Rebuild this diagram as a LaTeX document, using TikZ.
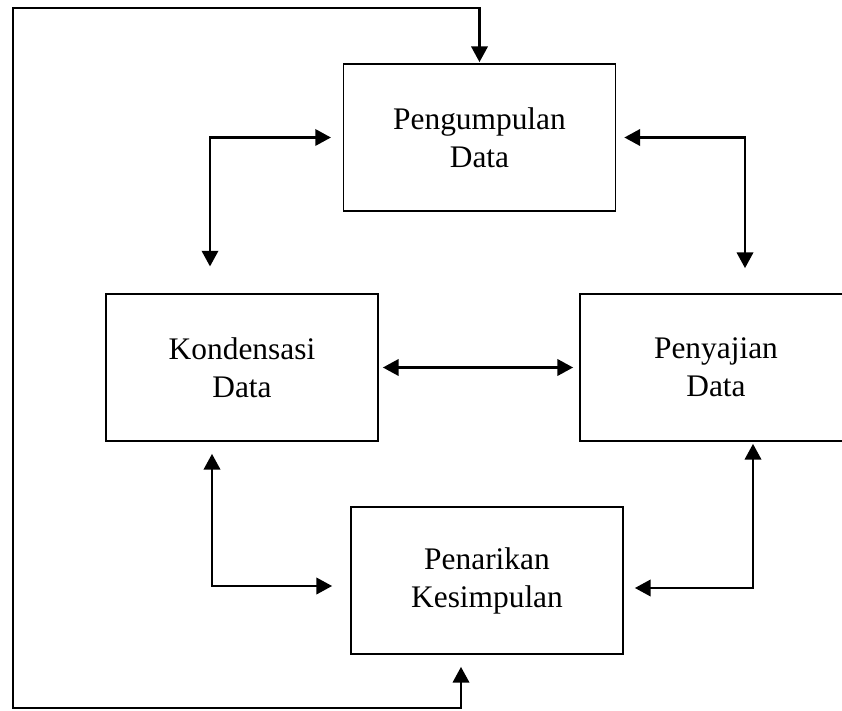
\documentclass[tikz,border=0pt]{standalone}
\usepackage{fontspec}
\setmainfont{Liberation Serif}
\usetikzlibrary{arrows.meta}

\begin{document}
\begin{tikzpicture}[x=0.03cm, y=-0.03cm,
  blok/.style={draw, line width=1.5pt, rectangle, minimum width=8.16cm, minimum height=4.41cm,
               inner sep=0pt, align=center, font=\fontsize{26.8}{32.5}\selectfont},
  link/.style={line width=2.1pt, {Triangle[length=0.47cm,width=0.49cm]}-{Triangle[length=0.47cm,width=0.49cm]}}]

 \useasboundingbox (0,0) rectangle (842,711);

 % boxes
 \foreach \n/\x/\y/\txt in {pengumpulan/479.5/137.5/{Pengumpulan\\Data},
                            kondensasi/242/367.5/{Kondensasi\\Data},
                            penyajian/716/367.5/{Penyajian\\Data},
                            penarikan/487/580.5/{Penarikan\\Kesimpulan}} {
   \node[blok] (\n) at (\x,\y) {\txt};
 }

 % corners
 \coordinate (kp) at (212,586);
 \coordinate (sp) at (753,588);
 \coordinate (looptop) at (13,8);
 \coordinate (loopbot) at (13,708);
 \coordinate (loopend) at (461,708);

 % lines
 \draw[link, shorten <=0.8cm, shorten >=0.35cm] (kondensasi.north -| 210,0) |- (pengumpulan.west);
 \draw[link, shorten <=0.75cm, shorten >=0.24cm] (penyajian.north -| 745,0) |- (pengumpulan.east);
 \draw[link, shorten <=0.12cm, shorten >=0.18cm] (kondensasi.east) -- (penyajian.west);
 \draw[link, shorten <=0.36cm, shorten >=0.54cm] (kondensasi.south -| kp) |- (penarikan.west |- kp);
 \draw[link, shorten <=0.06cm, shorten >=0.33cm] (penyajian.south -| sp) |- (penarikan.east |- sp);

 % loop round
 \draw[link, shorten <=0.03cm, shorten >=0.36cm] (pengumpulan.north) |- (looptop) -- (loopbot) -- (loopend) -- (penarikan.south -| loopend);

\end{tikzpicture}
\end{document}
